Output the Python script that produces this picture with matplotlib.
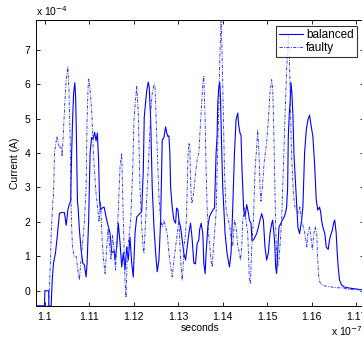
import numpy as np
import matplotlib
matplotlib.use("Agg")
import matplotlib.pyplot as plt

# time axis in units of 1e-7 s, current in units of 1e-4 A
t_bal = [1.0980, 1.0999, 1.1000, 1.10085, 1.1009, 1.10141, 1.10164, 1.10193, 1.10238, 1.10269, 1.10298,
         1.10327, 1.10365, 1.10439, 1.10478, 1.10516, 1.10545, 1.10578, 1.10601, 1.10623, 1.10646,
         1.10673, 1.10691, 1.10708, 1.10731, 1.10747, 1.10776, 1.10814, 1.10852, 1.10888, 1.10926,
         1.10948, 1.10982, 1.11000, 1.11016, 1.11049, 1.11083, 1.11117, 1.11150, 1.11179, 1.11206,
         1.11229, 1.11251, 1.11285, 1.11330, 1.11390, 1.11464, 1.11502, 1.11554, 1.11576, 1.11614,
         1.11650, 1.11688, 1.11726, 1.11762, 1.11800, 1.11838, 1.11874, 1.11912, 1.11951, 1.11986,
         1.12025, 1.12063, 1.12137, 1.12175, 1.12211, 1.12233, 1.12287, 1.12323, 1.12345, 1.12377,
         1.12412, 1.12451, 1.12489, 1.12525, 1.12563, 1.12601, 1.12637, 1.12675, 1.12713, 1.12735,
         1.12764, 1.12787, 1.12809, 1.12825, 1.12861, 1.12899, 1.12937, 1.12959, 1.12989, 1.13011,
         1.13049, 1.13085, 1.13123, 1.13161, 1.13197, 1.13235, 1.13273, 1.13309, 1.13347, 1.13385,
         1.13421, 1.13459, 1.13475, 1.13511, 1.13549, 1.13571, 1.13601, 1.13623, 1.13661, 1.13699,
         1.13735, 1.13773, 1.13811, 1.13825, 1.13847, 1.13870, 1.13885, 1.13908, 1.13930, 1.13946,
         1.13975, 1.13997, 1.14020, 1.14049, 1.14094, 1.14148, 1.14184, 1.14222, 1.14260, 1.14296,
         1.14334, 1.14356, 1.14385, 1.14408, 1.14430, 1.14468, 1.14498, 1.14536, 1.14574, 1.14596,
         1.14632, 1.14654, 1.14686, 1.14722, 1.14760, 1.14798, 1.14834, 1.14872, 1.14910, 1.14946,
         1.14984, 1.15022, 1.15058, 1.15096, 1.15118, 1.15148, 1.15170, 1.15186, 1.15208, 1.15231,
         1.15260, 1.15305, 1.15336, 1.15381, 1.15410, 1.15432, 1.15455, 1.15470, 1.15493, 1.15515,
         1.15529, 1.15551, 1.15574, 1.15596, 1.15612, 1.15650, 1.15686, 1.15724, 1.15769, 1.15798,
         1.15836, 1.15874, 1.15910, 1.15948, 1.15970, 1.16022, 1.16060, 1.16098, 1.16134, 1.16172,
         1.16195, 1.16217, 1.16246, 1.16291, 1.16322, 1.16367, 1.16396, 1.16419, 1.16457, 1.16493,
         1.16515, 1.16547, 1.16569, 1.16591, 1.16621, 1.16666, 1.16717, 1.16829, 1.17160]
i_bal = [-0.44, -0.44, 0.0, 0.0, -0.44, -0.44, 0.3, 0.8, 1.1, 1.47, 1.85,
         2.25, 2.27, 2.27, 1.9, 2.35, 2.5, 2.6, 4.0, 5.0, 5.75,
         6.04, 5.6, 4.5, 2.6, 2.4, 1.76, 1.18, 0.8, 0.75, 0.4,
         0.8, 2.0, 3.0, 4.0, 4.45, 4.4, 4.6, 4.35, 4.58, 3.8,
         2.6, 2.35, 2.4, 2.43, 2.05, 1.67, 1.1, 1.15, 0.89, 1.27,
         1.96, 1.4, 0.69, 1.1, 0.6, 1.27, 0.89, 1.56, 0.8, 0.4,
         1.66, 2.14, 2.25, 2.3, 3.5, 5.05, 5.8, 6.06, 5.9, 4.96,
         3.0, 1.85, 1.08, 0.55, 0.9, 2.05, 4.38, 4.45, 4.76, 4.6,
         4.48, 4.5, 3.99, 3.0, 2.43, 2.05, 1.96, 2.4, 2.35, 2.05,
         1.85, 1.47, 1.08, 0.89, 1.27, 1.66, 1.96, 1.5, 0.8, 0.78,
         1.37, 1.47, 1.76, 1.96, 1.66, 0.8, 0.5, 1.1, 1.85, 2.15,
         2.25, 2.34, 2.4, 3.0, 3.99, 4.5, 5.45, 5.93, 6.05, 5.6,
         4.0, 3.0, 2.43, 1.67, 1.08, 0.69, 1.1, 2.43, 4.0, 4.96,
         5.16, 4.8, 4.58, 4.5, 3.5, 2.35, 2.15, 2.5, 2.25, 2.05,
         1.96, 1.47, 1.47, 1.56, 1.66, 1.85, 2.05, 2.24, 2.05, 1.27,
         0.89, 1.1, 1.66, 1.94, 2.05, 1.66, 1.27, 0.69, 0.5, 1.1,
         1.85, 1.96, 2.05, 2.15, 2.28, 2.43, 3.0, 4.48, 5.16, 5.54,
         6.05, 5.74, 5.1, 4.0, 3.6, 2.73, 1.85, 1.66, 2.05, 2.43,
         4.0, 4.67, 4.96, 5.1, 4.9, 4.48, 3.7, 2.64, 2.34, 2.43,
         2.3, 2.05, 1.85, 1.66, 1.27, 1.2, 1.47, 1.6, 1.75, 1.99,
         2.05, 1.66, 1.1, 0.69, 0.31, 0.17, 0.11, 0.08, 0.02]

t_flt = [1.0980, 1.10085, 1.10108, 1.10126, 1.10141, 1.10179, 1.10193, 1.10215, 1.10238, 1.10269,
         1.10298, 1.10327, 1.10359, 1.10388, 1.10417, 1.10448, 1.10478, 1.10516, 1.10538, 1.10567,
         1.10583, 1.10596, 1.10619, 1.10657, 1.10702, 1.10740, 1.10776, 1.10798, 1.10821, 1.10852,
         1.10888, 1.10926, 1.10948, 1.10971, 1.10986, 1.11016, 1.11054, 1.11090, 1.11128, 1.11150,
         1.11184, 1.11217, 1.11251, 1.11285, 1.11318, 1.11352, 1.11386, 1.11419, 1.11453, 1.11486,
         1.11520, 1.11554, 1.11587, 1.11621, 1.11655, 1.11688, 1.11726, 1.11762, 1.11800, 1.11823,
         1.11852, 1.11897, 1.11928, 1.11973, 1.12002, 1.12031, 1.12063, 1.12099, 1.12137, 1.12175,
         1.12211, 1.12226, 1.12264, 1.12338, 1.12377, 1.12412, 1.12451, 1.12473, 1.12495, 1.12525,
         1.12563, 1.12601, 1.12637, 1.12675, 1.12713, 1.12749, 1.12787, 1.12825, 1.12861, 1.12899,
         1.12937, 1.12973, 1.13011, 1.13049, 1.13085, 1.13107, 1.13123, 1.13161, 1.13184, 1.13197,
         1.13213, 1.13235, 1.13258, 1.13273, 1.13296, 1.13318, 1.13347, 1.13385, 1.13421, 1.13459,
         1.13504, 1.13549, 1.13571, 1.13601, 1.13623, 1.13645, 1.13677, 1.13706, 1.13735, 1.13758,
         1.13780, 1.13811, 1.13847, 1.13870, 1.13901, 1.13930, 1.13959, 1.13982, 1.14004, 1.14036,
         1.14072, 1.14094, 1.14125, 1.14155, 1.14184, 1.14222, 1.14260, 1.14296, 1.14334, 1.14372,
         1.14394, 1.14424, 1.14446, 1.14484, 1.14520, 1.14558, 1.14596, 1.14619, 1.14648, 1.14686,
         1.14722, 1.14760, 1.14782, 1.14811, 1.14834, 1.14856, 1.14887, 1.14932, 1.14984, 1.15022,
         1.15058, 1.15096, 1.15118, 1.15139, 1.15170, 1.15186, 1.15208, 1.15231, 1.15260, 1.15282,
         1.15320, 1.15358, 1.15394, 1.15432, 1.15470, 1.15493, 1.15515, 1.15542, 1.15583, 1.15618,
         1.15657, 1.15695, 1.15731, 1.15769, 1.15807, 1.15843, 1.15888, 1.15903, 1.15948, 1.15970,
         1.16009, 1.16044, 1.16076, 1.16112, 1.16127, 1.16150, 1.16179, 1.16217, 1.16262, 1.16374,
         1.16531, 1.16686, 1.16822, 1.17160]
i_flt = [-0.44, -0.44, 0.3, 0.89, 1.66, 2.64, 2.7, 4.0, 4.2, 4.48,
         4.3, 4.15, 4.2, 3.9, 4.67, 5.45, 6.13, 6.5, 5.9, 4.48,
         3.0, 2.05, 1.27, 1.0, 1.0, 0.6, 0.31, 0.7, 1.0, 1.47,
         2.0, 3.0, 4.96, 5.93, 6.15, 5.83, 5.16, 4.0, 3.2, 2.83,
         2.4, 2.0, 2.6, 1.5, 0.9, 0.5, 1.2, 1.8, 1.3, 0.9,
         1.6, 1.2, 0.6, 1.5, 2.5, 3.6, 4.0, 2.05, 0.3, -0.2,
         1.1, 1.66, 2.05, 3.5, 4.96, 5.45, 5.93, 5.16, 3.0, 1.85,
         1.2, 1.1, 2.05, 4.0, 5.16, 5.74, 5.99, 5.95, 5.16, 4.0,
         2.7, 2.05, 1.85, 2.05, 1.85, 1.66, 1.1, 0.7, 0.4, 0.89,
         1.27, 1.66, 2.05, 0.9, 0.3, 0.7, 1.27, 1.66, 2.24, 3.0,
         3.8, 4.29, 4.2, 3.2, 2.54, 2.6, 2.9, 3.42, 3.8, 4.0,
         5.0, 6.03, 6.22, 4.96, 3.5, 2.43, 1.66, 1.3, 0.89, 0.69,
         1.1, 1.66, 2.24, 3.5, 4.96, 6.7, 7.86, 6.9, 5.45, 3.5,
         2.34, 2.2, 2.05, 1.85, 1.5, 1.3, 2.05, 1.85, 1.3, 1.1,
         0.89, 1.27, 2.05, 2.43, 2.05, 1.66, 0.31, 0.2, 1.27, 2.05,
         3.5, 4.2, 4.67, 4.0, 3.0, 2.6, 3.0, 3.8, 4.3, 4.96,
         5.74, 6.13, 5.9, 4.96, 3.0, 1.85, 1.1, 0.69, 0.9, 1.27,
         2.05, 3.5, 4.96, 6.42, 7.4, 6.9, 5.5, 4.0, 2.83, 2.43,
         2.34, 2.25, 2.43, 2.05, 1.85, 1.66, 1.27, 1.6, 1.85, 1.66,
         1.2, 1.66, 1.85, 1.6, 1.0, 0.45, 0.25, 0.18, 0.15, 0.12,
         0.09, 0.08, 0.04, 0.02]

xticks = [1.10, 1.11, 1.12, 1.13, 1.14, 1.15, 1.16, 1.17]
xticklabels = ["1.1", "1.11", "1.12", "1.13", "1.14", "1.15", "1.16", "1.17"]
yticks = [0, 1, 2, 3, 4, 5, 6, 7]

plt.rcParams["font.family"] = ["Liberation Sans", "DejaVu Sans"]

fig = plt.figure(figsize=(3.62, 3.39), dpi=100)
ax = fig.add_axes([36 / 362, 33 / 339, 327.5 / 362, 286 / 339])

ax.plot(t_bal, i_bal, color="#0000ff", lw=0.8, label="balanced")
ax.plot(t_flt, i_flt, color="#2233ff", lw=0.65, linestyle=(0, (3.5, 1.5, 1, 1.5)), label="faulty")

ax.set_xlim(1.0980, 1.1716)
ax.set_ylim(-0.444, 7.863)
ax.set_xticks(xticks)
ax.set_xticklabels(xticklabels)
ax.set_yticks(yticks)
ax.tick_params(direction="in", length=3, width=0.6, labelsize=7.5, top=True, right=True, pad=4)
for s in ax.spines.values():
    s.set_linewidth(0.7)

ax.set_xlabel("seconds", fontsize=7.5, labelpad=1)
ax.set_ylabel("Current (A)", fontsize=7.5, labelpad=3)

fig.text(36 / 362, 1 - 18 / 339, r"x 10$^{-4}$", fontsize=7.5, ha="left", va="bottom")
fig.text(331 / 362, 1 - 338 / 339, r"x 10$^{-7}$", fontsize=7.5, ha="left", va="bottom")

leg = ax.legend(loc="upper right", bbox_to_anchor=(0.98, 0.98), borderaxespad=0,
                fontsize=8.5, frameon=True, fancybox=False, handlelength=2.0,
                handletextpad=0.3, borderpad=0.25, labelspacing=0.15)
leg.get_frame().set_edgecolor("black")
leg.get_frame().set_linewidth(0.8)

fig.savefig("out.png", dpi=100)
